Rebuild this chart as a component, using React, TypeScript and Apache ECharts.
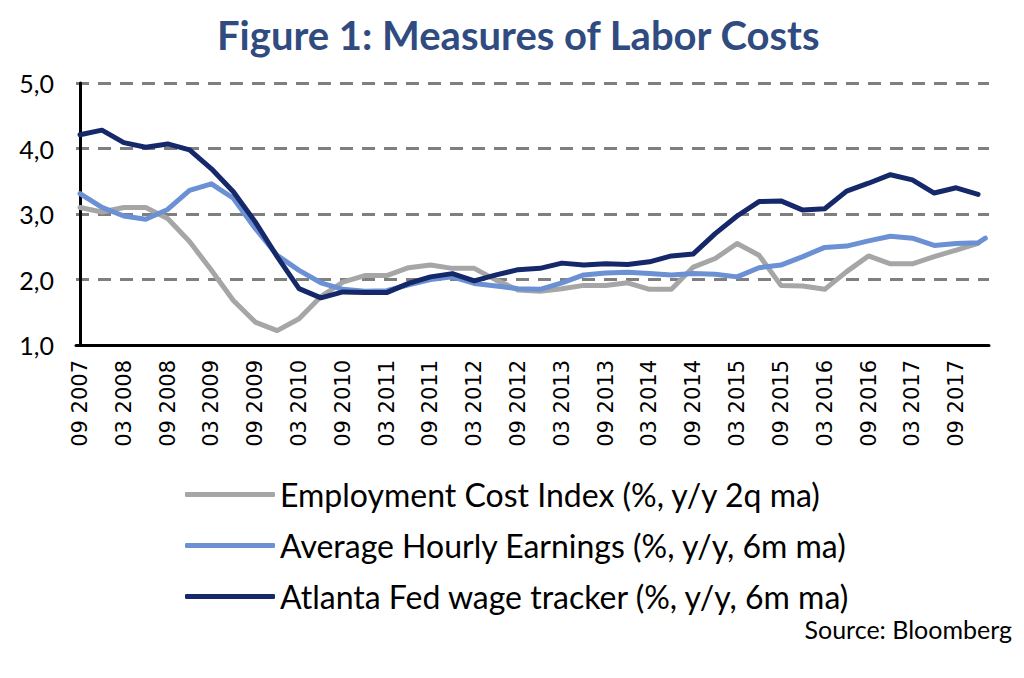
import React, { useEffect, useRef } from "react";
import * as echarts from "echarts";

// Quarterly observation dates (month year)
const quarters = [
  "09 2007", "12 2007", "03 2008", "06 2008", "09 2008", "12 2008",
  "03 2009", "06 2009", "09 2009", "12 2009", "03 2010", "06 2010",
  "09 2010", "12 2010", "03 2011", "06 2011", "09 2011", "12 2011",
  "03 2012", "06 2012", "09 2012", "12 2012", "03 2013", "06 2013",
  "09 2013", "12 2013", "03 2014", "06 2014", "09 2014", "12 2014",
  "03 2015", "06 2015", "09 2015", "12 2015", "03 2016", "06 2016",
  "09 2016", "12 2016", "03 2017", "06 2017", "09 2017", "12 2017",
];

// Axis tick labels (every six months)
const tickLabels = [
  "09 2007", "03 2008", "09 2008", "03 2009", "09 2009", "03 2010",
  "09 2010", "03 2011", "09 2011", "03 2012", "09 2012", "03 2013",
  "09 2013", "03 2014", "09 2014", "03 2015", "09 2015", "03 2016",
  "09 2016", "03 2017", "09 2017",
];

const yTicks = [1, 2, 3, 4, 5];

const seriesNames = [
  "Employment Cost Index (%, y/y 2q ma)",
  "Average Hourly Earnings (%, y/y, 6m ma)",
  "Atlanta Fed wage tracker (%, y/y, 6m ma)",
];

const eci = [
  3.10, 3.03, 3.10, 3.10, 2.93, 2.58, 2.14, 1.68, 1.35, 1.22, 1.40, 1.74,
  1.96, 2.06, 2.06, 2.18, 2.22, 2.17, 2.17, 1.99, 1.84, 1.82, 1.86, 1.91,
  1.91, 1.95, 1.85, 1.85, 2.19, 2.32, 2.55, 2.37, 1.91, 1.90, 1.85, 2.12,
  2.36, 2.24, 2.24, 2.35, 2.45, 2.55,
];

const ahe = [
  3.31, 3.10, 2.97, 2.92, 3.07, 3.36, 3.46, 3.24, 2.78, 2.37, 2.14, 1.95,
  1.85, 1.82, 1.83, 1.92, 2.00, 2.04, 1.94, 1.90, 1.86, 1.85, 1.95, 2.07,
  2.10, 2.11, 2.09, 2.07, 2.09, 2.08, 2.04, 2.18, 2.22, 2.35, 2.49, 2.51,
  2.59, 2.66, 2.63, 2.52, 2.55, 2.56,
];
const aheLatest = { date: "01 2018", value: 2.63 };

const atl = [
  4.21, 4.28, 4.09, 4.02, 4.07, 3.98, 3.69, 3.34, 2.88, 2.35, 1.86, 1.72,
  1.81, 1.80, 1.80, 1.94, 2.04, 2.09, 1.98, 2.07, 2.15, 2.17, 2.25, 2.22,
  2.24, 2.23, 2.27, 2.36, 2.39, 2.70, 2.97, 3.19, 3.20, 3.06, 3.08, 3.35,
  3.47, 3.60, 3.52, 3.32, 3.40, 3.30,
];

const colors = ["#A6A6A6", "#6B91D4", "#15296A"];

// months elapsed since Sep 2007
function monthOf(s: string): number {
  const [m, y] = s.split(" ").map(Number);
  return (y - 2007) * 12 + (m - 9);
}

export default function App() {
  const ref = useRef<HTMLDivElement>(null);

  useEffect(() => {
    if (!ref.current) return;
    const chart = echarts.init(ref.current, null, { renderer: "svg" });

    const toPairs = (vals: number[]) => vals.map((v, i) => [monthOf(quarters[i]), v]);
    const aheData = toPairs(ahe);
    aheData.push([monthOf(aheLatest.date), aheLatest.value]);

    const tickMonths = tickLabels.map(monthOf);

    const mkSeries = (name: string, data: number[][], color: string, z: number) => ({
      type: "line",
      name,
      data,
      showSymbol: false,
      symbol: "none",
      z,
      lineStyle: { color, width: 5, cap: "round", join: "round" },
      itemStyle: { color },
    });

    chart.setOption({
      animation: false,
      backgroundColor: "#ffffff",
      title: {
        text: "Figure 1: Measures of Labor Costs",
        left: 212,
        top: 10,
        textStyle: {
          fontFamily: "Lato",
          fontWeight: "bold",
          fontSize: 40,
          color: "#2F4B80",
        },
      },
      legend: {
        data: seriesNames,
        orient: "vertical",
        left: 180,
        top: 473,
        itemWidth: 90,
        itemHeight: 5,
        itemGap: 18,
        icon: "roundRect",
        selectedMode: false,
        textStyle: {
          fontFamily: "Lato",
          fontSize: 32,
          color: "#000",
          lineHeight: 33,
        },
      },
      grid: { left: 76, right: 35, top: 83, bottom: 333, containLabel: false },
      xAxis: {
        type: "value",
        min: -0.55,
        max: 124.5,
        splitLine: { show: false },
        axisTick: { show: false },
        axisLine: { show: true, onZero: false, lineStyle: { color: "#000", width: 3 } },
        axisLabel: {
          customValues: tickMonths,
          rotate: 90,
          margin: 15,
          fontFamily: "DejaVu Sans",
          fontSize: 21,
          color: "#000",
          formatter: (v: number) => {
            const i = tickMonths.indexOf(Math.round(v));
            return i >= 0 ? tickLabels[i] : "";
          },
        },
      },
      yAxis: {
        type: "value",
        min: yTicks[0],
        max: yTicks[yTicks.length - 1],
        interval: 1,
        axisLine: { show: true, lineStyle: { color: "#000", width: 3 } },
        axisTick: { show: false },
        splitLine: {
          show: true,
          lineStyle: { color: "#7F7F7F", width: 3, type: [13, 9] },
        },
        axisLabel: {
          margin: 22,
          fontFamily: "Lato",
          fontSize: 25,
          color: "#000",
          formatter: (v: number) => v.toFixed(1).replace(".", ","),
        },
      },
      series: [
        mkSeries(seriesNames[0], toPairs(eci), colors[0], 2),
        mkSeries(seriesNames[1], aheData, colors[1], 3),
        mkSeries(seriesNames[2], toPairs(atl), colors[2], 4),
      ],
      graphic: [
        {
          type: "text",
          right: 12,
          top: 616,
          style: {
            text: "Source: Bloomberg",
            font: "25px Lato",
            fill: "#000",
          },
        },
      ],
    });

    return () => chart.dispose();
  }, []);

  return (
    <div
      ref={ref}
      style={{ position: "fixed", left: 0, top: 0, width: 1024, height: 678, background: "#fff" }}
    />
  );
}
